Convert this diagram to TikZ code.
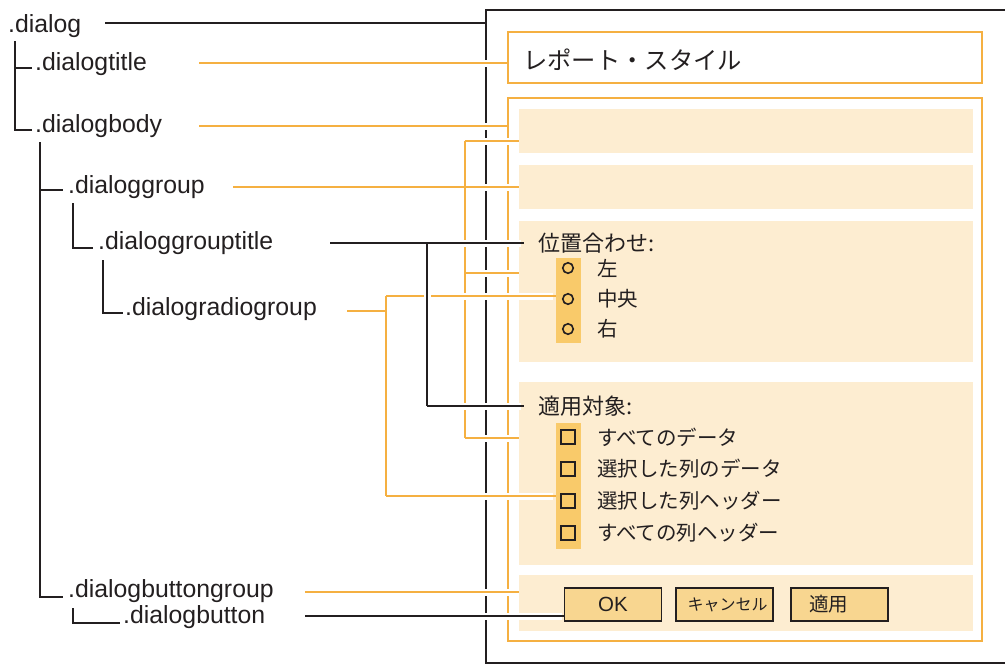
\documentclass[tikz,border=0pt]{standalone}
\usepackage{fontspec}
\setmainfont{Liberation Sans}
\newfontfamily\jp{Noto Sans CJK JP}
\definecolor{org}{HTML}{F5B041}
\definecolor{pnl}{HTML}{FDEDD1}
\definecolor{col}{HTML}{F9CA6A}
\definecolor{btnfill}{HTML}{F8D690}
\definecolor{ink}{HTML}{231F20}
\begin{document}
\begin{tikzpicture}[x=1pt,y=-1pt,
  lbl/.style={anchor=base west, inner sep=0pt, font=\fontsize{24.8}{25}\selectfont, text=ink},
  tree/.style={draw=ink, line width=1.5pt},
  oline/.style={draw=org, line width=1.5pt},
  bline/.style={draw=ink, line width=1.5pt},
  halo/.style={preaction={draw=white, line width=7pt, shorten <=3pt, shorten >=3pt}},
  panel/.style={fill=pnl, draw=none, anchor=north west, inner sep=0pt, outer sep=0pt, minimum width=454pt},
  obox/.style={draw=org, line width=2pt, anchor=north west, inner sep=0pt, outer sep=0pt, minimum width=474pt},
  colbox/.style={fill=col, draw=none, anchor=north west, inner sep=0pt, outer sep=0pt, minimum width=25pt},
  rad/.style={circle, draw=ink, line width=1.6pt, minimum size=10.5pt, inner sep=0pt},
  chk/.style={rectangle, draw=ink, line width=1.8pt, minimum size=13.5pt, inner sep=0pt},
  jl/.style={anchor=west, inner sep=0pt, font=\jp\fontsize{20.5}{21}\selectfont, text=ink},
  jh/.style={anchor=west, inner sep=0pt, font=\jp\fontsize{22}{22}\selectfont, text=ink},
  btn/.style={draw=ink, fill=btnfill, line width=1.6pt, minimum width=97pt, minimum height=33pt, inner sep=0pt, outer sep=0pt, text=ink}
]
\useasboundingbox (0,0) rectangle (1005,665);

% outer dialog frame
\coordinate (fl) at (486,10);
\draw[draw=ink, line width=2.6pt] (1010,10) -- (fl) -- (486,663) -- (1010,663);

% title and body boxes
\node[obox, minimum height=51pt] (title) at (508,32) {};
\node[anchor=west, inner sep=0pt, font=\jp\fontsize{24.3}{24}\selectfont, text=ink] (titletxt) at (523,60) {レポート・スタイル};
\node[obox, minimum height=543pt] (body) at (508,98) {};

% panels
\node[panel, minimum height=44pt] (p1) at (519,109) {};
\node[panel, minimum height=44pt] (p2) at (519,165) {};
\node[panel, minimum height=141pt] (p3) at (519,221) {};
\node[panel, minimum height=183pt] (p4) at (519,382) {};
\node[panel, minimum height=56pt] (p5) at (519,575) {};

% radio group
\node[jh] (pos) at (538,243) {位置合わせ:};
\node[colbox, minimum height=85pt] (rc) at (556,258) {};
\node[rad] (r1) at (568,268) {};
\node[rad] (r2) at (568,299) {};
\node[rad] (r3) at (568,329) {};
\node[jl] (l1) at (597,268) {左};
\node[jl] (l2) at (597,299) {中央};
\node[jl] (l3) at (597,329) {右};

% check group
\node[jh] (apply) at (538,406) {適用対象:};
\node[colbox, minimum height=126pt] (cc) at (556,423) {};
\node[chk] (k1) at (568,437) {};
\node[chk] (k2) at (568,469) {};
\node[chk] (k3) at (568,501) {};
\node[chk] (k4) at (568,533) {};
\node[jl] (m1) at (597,437) {すべてのデータ};
\node[jl] (m2) at (597,469) {選択した列のデータ};
\node[jl] (m3) at (597,501) {選択した列ヘッダー};
\node[jl] (m4) at (597,533) {すべての列ヘッダー};

% buttons
\node[btn, font=\fontsize{20.5}{20}\selectfont] (ok) at (613,604.5) {OK};
\node[btn, font=\jp\fontsize{16}{16}\selectfont] (cancel) at (724.5,604.5) {\hspace*{6pt}キャンセル};
\node[btn, font=\jp\fontsize{19.5}{19}\selectfont] (applyb) at (839.5,604.5) {\hspace*{-22pt}適用};

% tree labels
\node[lbl] (dialog) at (8,32) {.dialog};
\node[lbl] (dtitle) at (35,70) {.dialogtitle};
\node[lbl] (dbody) at (35,132) {.dialogbody};
\node[lbl] (dgroup) at (68,193) {.dialoggroup};
\node[lbl] (dgtitle) at (98,249) {.dialoggrouptitle};
\node[lbl] (dradio) at (125,315) {.dialogradiogroup};
\node[lbl] (dbgroup) at (68,597) {.dialogbuttongroup};
\node[lbl] (dbutton) at (123,623) {.dialogbutton};

% tree lines
\draw[tree] (15,41) |- (32,130);
\draw[tree] (15,68) -- (32,68);
\draw[tree] (40,142) |- (63,597);
\draw[tree] (40,190) -- (63,190);
\draw[tree] (73,203) |- (93,248);
\draw[tree] (103,260) |- (123,313);
\draw[tree] (73,608) |- (120,623);

% connector anchor points
\coordinate (c-dialog) at (105,23);
\coordinate (c-title) at (199,63);
\coordinate (c-body) at (199,126);
\coordinate (c-group) at (233,187);
\coordinate (br-top) at (465,141);
\coordinate (br-mid) at (465,273);
\coordinate (br-bot) at (465,438);
\coordinate (c-gt) at (330,243);
\coordinate (gt-top) at (427,243);
\coordinate (gt-bot) at (427,406);
\coordinate (c-rg) at (347,311);
\coordinate (rg-top) at (386,296);
\coordinate (rg-bot) at (386,496);
\coordinate (c-bg) at (305,592);
\coordinate (c-bt) at (305,616);

% .dialog
\draw[bline] (c-dialog) -- (c-dialog -| fl);
% .dialogtitle / .dialogbody
\draw[oline, halo] (c-title) -- (c-title -| title.west);
\draw[oline, halo] (c-body) -- (c-body -| body.west);
% .dialoggroup
\draw[oline, halo] (c-group) -- (c-group -| p2.west);
\draw[oline] (br-top) -- (br-bot);
\draw[oline, halo] (br-top) -- (br-top -| p1.west);
\draw[oline, halo] (br-mid) -- (br-mid -| p3.west);
\draw[oline, halo] (br-bot) -- (br-bot -| p4.west);
% .dialogradiogroup
\draw[oline] (c-rg) -- (c-rg -| rg-top);
\draw[oline] (rg-top) -- (rg-bot);
\draw[oline, halo] (rg-top) -- (rg-top -| rc.west);
\draw[oline, halo] (rg-bot) -- (rg-bot -| cc.west);
% .dialogbuttongroup
\draw[oline, halo] (c-bg) -- (c-bg -| p5.west);
% .dialoggrouptitle
\draw[bline, halo] (c-gt) -- ([xshift=-14pt]pos.west |- c-gt);
\draw[bline, halo] (gt-top) -- (gt-bot);
\draw[bline, halo] (gt-bot) -- ([xshift=-14pt]apply.west |- gt-bot);
% .dialogbutton
\draw[bline, halo] (c-bt) -- (c-bt -| ok.west);
\end{tikzpicture}
\end{document}
